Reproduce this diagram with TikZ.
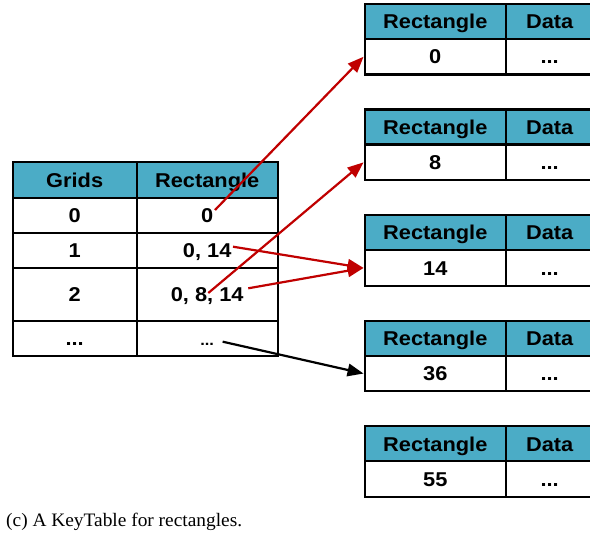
\documentclass[tikz,border=0pt]{standalone}
\usepackage{fontspec}
\setmainfont{Liberation Serif}
\newfontfamily\tabfont[FakeStretch=1.09]{Liberation Sans}
\newfontfamily\capfont[FakeStretch=1.02]{Liberation Serif}
\usetikzlibrary{arrows.meta}
\definecolor{hdrblue}{HTML}{4BACC6}
\definecolor{arrred}{HTML}{C00000}
\begin{document}
\begin{tikzpicture}[x=1pt,y=-1pt,
  cell/.style={draw=black, line width=2.2pt, inner sep=0pt, text=black,
    font=\tabfont\bfseries\fontsize{20}{24}\selectfont,
    text height=14.3pt, text depth=0pt},
  hdr/.style={cell, fill=hdrblue},
  dat/.style={cell, fill=white},
  link/.style={line width=2.2pt, -{Triangle[length=16pt,width=12.5pt]}},
  redlink/.style={link, draw=arrred, fill=arrred},
  blacklink/.style={link, draw=black, fill=black}]
\useasboundingbox (0,0) rectangle (590,534);
\clip (0,0) rectangle (590,534);
\fill[white] (0,0) rectangle (590,534);

% ---- left table (Grids / Rectangle)
\node[hdr, minimum width=124pt, minimum height=35.4pt] (gh1) at (74.7,180) {Grids};
\node[hdr, minimum width=141pt, minimum height=35.4pt] (gh2) at (207.2,180) {Rectangle};
\node[dat, minimum width=124pt, minimum height=35pt] (g0a) at (74.7,215.2) {0};
\node[dat, minimum width=141pt, minimum height=35pt] (g0b) at (207.2,215.2) {0};
\node[dat, minimum width=124pt, minimum height=35pt] (g1a) at (74.7,250.2) {1};
\node[dat, minimum width=141pt, minimum height=35pt] (g1b) at (207.2,250.2) {0, 14};
\node[dat, minimum width=124pt, minimum height=53pt] (g2a) at (74.7,294.2) {2};
\node[dat, minimum width=141pt, minimum height=53pt] (g2b) at (207.2,294.2) {0, 8, 14};
\node[dat, minimum width=124pt, minimum height=35.3pt] (g3a) at (74.7,338.4) {...};
\node[dat, minimum width=141pt, minimum height=35.3pt, font=\tabfont\bfseries\fontsize{15}{18}\selectfont] (g3b) at (207.2,338.4) {...};

% ---- right tables (Rectangle / Data)
\foreach \i/\k/\t in {0/0/4, 1/8/109.6, 2/14/215.2, 3/36/320.8, 4/55/426.4}{
  \node[hdr, minimum width=141.3pt, minimum height=35pt] (rh\i a) at (435.3,\t+17.5) {Rectangle};
  \node[hdr, minimum width=87.4pt, minimum height=35pt] (rh\i b) at (549.7,\t+17.5) {Data};
  \node[dat, minimum width=141.3pt, minimum height=35.5pt] (rd\i a) at (435.3,\t+52.75) {\k};
  \node[dat, minimum width=87.4pt, minimum height=35.5pt] (rd\i b) at (549.7,\t+52.75) {...};
}

% ---- connector start points
\coordinate (s0) at (215,210);
\coordinate (s8) at (208.3,293);
\coordinate (s14a) at (233,246.7);
\coordinate (s14b) at (248.3,288.3);
\coordinate (sdots) at (222.7,341.7);

\draw[redlink] (s0) -- (rd0a.west);
\draw[redlink] (s8) -- (rd1a.west);
\draw[redlink] (s14a) -- (rd2a.west);
\draw[redlink] (s14b) -- (rd2a.west);
\draw[blacklink] (sdots) -- (rd3a.west);

% ---- caption
\node[anchor=base west, inner sep=0pt, font=\capfont\fontsize{19}{22}\selectfont] (cap) at (6,527) {(c) A KeyTable for rectangles.};
\end{tikzpicture}
\end{document}
